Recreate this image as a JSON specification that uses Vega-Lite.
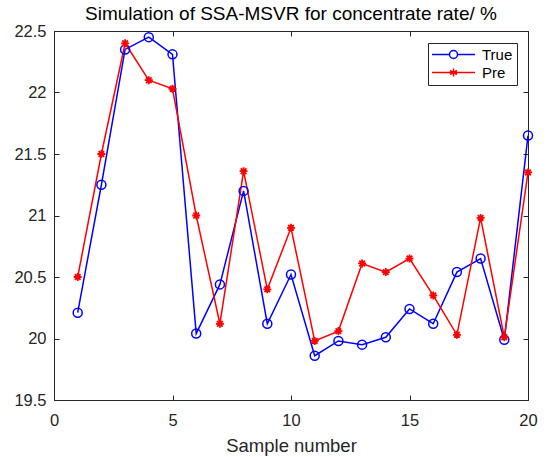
{
  "$schema": "https://vega.github.io/schema/vega-lite/v6.json",
  "width": 474,
  "height": 369,
  "autosize": "none",
  "padding": {"left": 54, "top": 31, "right": 19, "bottom": 57},
  "background": "white",
  "config": {
    "view": {"stroke": "#262626", "strokeWidth": 1},
    "font": "Liberation Sans",
    "axis": {
      "grid": false,
      "domainColor": "#262626",
      "tickColor": "#262626",
      "labelColor": "#262626",
      "titleColor": "#262626",
      "labelFont": "Liberation Sans",
      "titleFont": "Liberation Sans",
      "labelFontSize": 16.5,
      "titleFontSize": 18.5,
      "titleFontWeight": "normal",
      "tickSize": -5,
      "labelFlush": false,
      "labelOverlap": false
    }
  },
  "title": {
    "text": "Simulation of SSA-MSVR for concentrate rate/ %",
    "font": "Liberation Sans",
    "fontSize": 19,
    "fontWeight": "normal",
    "color": "#000000",
    "offset": -1,
    "anchor": "middle"
  },
  "data": {
    "values": [
      {"Sample": 1, "Series": "True", "Value": 20.21},
      {"Sample": 2, "Series": "True", "Value": 21.25},
      {"Sample": 3, "Series": "True", "Value": 22.35},
      {"Sample": 4, "Series": "True", "Value": 22.45},
      {"Sample": 5, "Series": "True", "Value": 22.31},
      {"Sample": 6, "Series": "True", "Value": 20.04},
      {"Sample": 7, "Series": "True", "Value": 20.44},
      {"Sample": 8, "Series": "True", "Value": 21.2},
      {"Sample": 9, "Series": "True", "Value": 20.12},
      {"Sample": 10, "Series": "True", "Value": 20.52},
      {"Sample": 11, "Series": "True", "Value": 19.86},
      {"Sample": 12, "Series": "True", "Value": 19.98},
      {"Sample": 13, "Series": "True", "Value": 19.95},
      {"Sample": 14, "Series": "True", "Value": 20.01},
      {"Sample": 15, "Series": "True", "Value": 20.24},
      {"Sample": 16, "Series": "True", "Value": 20.12},
      {"Sample": 17, "Series": "True", "Value": 20.54},
      {"Sample": 18, "Series": "True", "Value": 20.65},
      {"Sample": 19, "Series": "True", "Value": 19.99},
      {"Sample": 20, "Series": "True", "Value": 21.65},
      {"Sample": 1, "Series": "Pre", "Value": 20.5},
      {"Sample": 2, "Series": "Pre", "Value": 21.5},
      {"Sample": 3, "Series": "Pre", "Value": 22.4},
      {"Sample": 4, "Series": "Pre", "Value": 22.1},
      {"Sample": 5, "Series": "Pre", "Value": 22.03},
      {"Sample": 6, "Series": "Pre", "Value": 21.0},
      {"Sample": 7, "Series": "Pre", "Value": 20.12},
      {"Sample": 8, "Series": "Pre", "Value": 21.36},
      {"Sample": 9, "Series": "Pre", "Value": 20.4},
      {"Sample": 10, "Series": "Pre", "Value": 20.9},
      {"Sample": 11, "Series": "Pre", "Value": 19.98},
      {"Sample": 12, "Series": "Pre", "Value": 20.06},
      {"Sample": 13, "Series": "Pre", "Value": 20.61},
      {"Sample": 14, "Series": "Pre", "Value": 20.54},
      {"Sample": 15, "Series": "Pre", "Value": 20.65},
      {"Sample": 16, "Series": "Pre", "Value": 20.35},
      {"Sample": 17, "Series": "Pre", "Value": 20.03},
      {"Sample": 18, "Series": "Pre", "Value": 20.98},
      {"Sample": 19, "Series": "Pre", "Value": 20.01},
      {"Sample": 20, "Series": "Pre", "Value": 21.35}
    ]
  },
  "resolve": {"axis": {"x": "independent", "y": "independent"}},
  "layer": [
    {
      "encoding": {
        "x": {
          "field": "Sample",
          "type": "quantitative",
          "scale": {"domain": [0, 20], "nice": false, "zero": false},
          "axis": {"orient": "bottom", "values": [0, 5, 10, 15, 20], "title": "Sample number", "titlePadding": 8, "labelPadding": 17}
        },
        "y": {
          "field": "Value",
          "type": "quantitative",
          "scale": {"domain": [19.5, 22.5], "nice": false, "zero": false},
          "axis": {"orient": "left", "values": [19.5, 20, 20.5, 21, 21.5, 22, 22.5], "format": "~g", "title": null, "labelPadding": 13}
        }
      },
      "layer": [
        {
          "mark": {"type": "line", "strokeWidth": 1.5},
          "encoding": {
            "color": {
              "field": "Series",
              "type": "nominal",
              "scale": {"domain": ["True", "Pre"], "range": ["#0000FF", "#FF0000"]},
              "legend": {
                "orient": "none",
                "legendX": 374,
                "legendY": 12,
                "title": null,
                "strokeColor": "#262626",
                "fillColor": "white",
                "padding": 4,
                "labelFont": "Liberation Sans",
                "labelFontSize": 15,
                "labelColor": "#000000",
                "symbolSize": 100,
                "symbolStrokeWidth": 1.5,
                "rowPadding": 2,
                "labelOffset": 35,
                "encode": {
                  "symbols": {
                    "update": {
                      "shape": {"signal": "datum.value === 'True' ? 'M-4.3,0L-0.8,0M0.8,0L4.3,0M0.8,0A0.8,0.8 0 1,1 -0.8,0A0.8,0.8 0 1,1 0.8,0' : 'M-4.3,0L4.3,0M0,-0.8L0,0.8M-0.7,-0.4L0.7,0.4M-0.7,0.4L0.7,-0.4'"},
                      "x": {"value": 21.5},
                      "fill": {"value": "transparent"},
                      "strokeWidth": {"value": 1.5}
                    }
                  }
                }
              }
            },
            "order": {"field": "Sample"}
          }
        },
        {
          "transform": [{"filter": "datum.Series === 'True'"}],
          "mark": {"type": "point", "shape": "circle", "filled": false, "size": 81, "strokeWidth": 1.5, "color": "#0000FF", "opacity": 1}
        },
        {
          "transform": [{"filter": "datum.Series === 'Pre'"}],
          "mark": {"type": "point", "shape": "M-1,0L1,0M0,-1L0,1M-0.7,-0.7L0.7,0.7M-0.7,0.7L0.7,-0.7", "filled": false, "size": 64, "strokeWidth": 1.8, "color": "#FF0000", "opacity": 1}
        }
      ]
    },
    {
      "mark": {"type": "point", "opacity": 0},
      "encoding": {
        "x": {
          "field": "Sample",
          "type": "quantitative",
          "scale": {"domain": [0, 20], "nice": false, "zero": false},
          "axis": {"orient": "top", "values": [0, 5, 10, 15, 20], "labels": false, "domain": false, "title": null}
        },
        "y": {
          "field": "Value",
          "type": "quantitative",
          "scale": {"domain": [19.5, 22.5], "nice": false, "zero": false},
          "axis": {"orient": "right", "values": [19.5, 20, 20.5, 21, 21.5, 22, 22.5], "labels": false, "domain": false, "title": null}
        }
      }
    }
  ]
}
